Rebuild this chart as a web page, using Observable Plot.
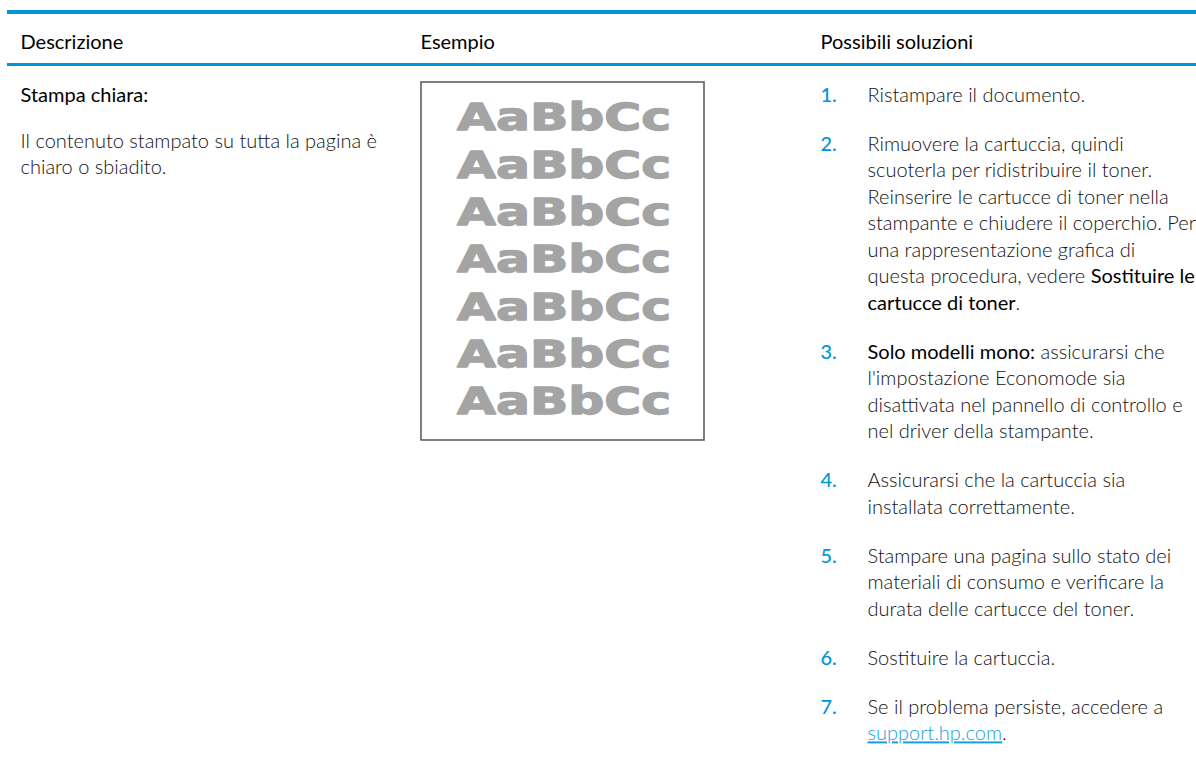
<!DOCTYPE html>
<html><head><meta charset="utf-8">
<script src="https://cdn.jsdelivr.net/npm/d3@7"></script>
<script src="https://cdn.jsdelivr.net/npm/@observablehq/plot@0.6"></script>
<style>body{margin:0;background:#fff;} svg{display:block}</style>
</head><body><div id="chart"></div>
<script>
// ---- content ----
const headers = ["Descrizione", "Esempio", "Possibili soluzioni"];
const problemTitle = ["Stampa chiara:"];
const problemLines = ["Il contenuto stampato su tutta la pagina è", "chiaro o sbiadito."];
const sampleText = "AaBbCc";
const sampleRowCount = 7;
const solutionNumbers = ["1.", "2.", "3.", "4.", "5.", "6.", "7."];
const solutionLines = [
  ["Ristampare il documento."],
  ["Rimuovere la cartuccia, quindi",
   "scuoterla per ridistribuire il toner.",
   "Reinserire le cartucce di toner nella",
   "stampante e chiudere il coperchio. Per",
   "una rappresentazione grafica di",
   "questa procedura, vedere *Sostituire le*",
   "*cartucce di toner*."],
  ["*Solo modelli mono:* assicurarsi che",
   "l'impostazione Economode sia",
   "disattivata nel pannello di controllo e",
   "nel driver della stampante."],
  ["Assicurarsi che la cartuccia sia",
   "installata correttamente."],
  ["Stampare una pagina sullo stato dei",
   "materiali di consumo e verificare la",
   "durata delle cartucce del toner."],
  ["Sostituire la cartuccia."],
  ["Se il problema persiste, accedere a",
   "~support.hp.com~."]
];

// ---- layout ----
const W = 1196, H = 764;
const BLUE = "#0096d6";
const colX = [20, 420, 820];
const textX = 867;
const headerY = 42;
const rowTop = 95;
const lineH = 26.5;
const itemStep = 49;
const FS = 20;

const headerRows = headers.map((t, i) => ({text: t, x: colX[i]}));
const leftRows = [
  ...problemTitle.map(t => ({text: t, y: rowTop, strong: true})),
  ...problemLines.map((t, j) => ({text: t, y: 141 + j * lineH, strong: false}))
];
const numberRows = [];
const solutionRows = [];
{
  let y = rowTop;
  solutionLines.forEach((lines, i) => {
    numberRows.push({text: solutionNumbers[i], y});
    lines.forEach((t, j) => solutionRows.push({text: t, y: y + j * lineH}));
    y += (lines.length - 1) * lineH + itemStep;
  });
}
const sampleRows = d3.range(sampleRowCount).map(i => ({text: sampleText, y: 118 + i * 47.3}));
const box = {x1: 421, x2: 704, y1: 82, y2: 440};
const rules = [{y1: 10, y2: 14}, {y1: 63, y2: 66}];

const chart = Plot.plot({
  width: W, height: H, margin: 0,
  x: {domain: [0, W], range: [0, W], axis: null},
  y: {domain: [0, H], range: [0, H], axis: null},
  style: {fontFamily: "Lato, 'Open Sans', sans-serif", background: "#fff"},
  marks: [
    Plot.rect(rules, {x1: () => 7, x2: () => W, y1: "y1", y2: "y2", fill: BLUE}),
    Plot.text(headerRows, {x: "x", y: () => headerY, text: "text", textAnchor: "start", lineAnchor: "middle",
      fontSize: FS, fontWeight: 400, fill: "#000"}),
    Plot.text(leftRows.filter(d => d.strong), {x: () => colX[0], y: "y", text: "text", textAnchor: "start",
      lineAnchor: "middle", fontSize: FS, fontWeight: 400, fill: "#000"}),
    Plot.text(leftRows.filter(d => !d.strong), {x: () => colX[0], y: "y", text: "text", textAnchor: "start",
      lineAnchor: "middle", fontSize: FS, fontWeight: 300, fill: "#111"}),
    Plot.rect([box], {x1: "x1", x2: "x2", y1: "y1", y2: "y2", fill: "none", stroke: "#555", strokeWidth: 1.5}),
    Plot.text(sampleRows, {x: () => (box.x1 + box.x2) / 2 + 1, y: "y", text: "text", textAnchor: "middle",
      lineAnchor: "middle", fontSize: 37, fontWeight: 700, fill: "#a4a4a4", stroke: "#a4a4a4", strokeWidth: 1.3,
      fontFamily: "'DejaVu Sans', sans-serif"}),
    Plot.text(numberRows, {x: () => colX[2], y: "y", text: "text", textAnchor: "start", lineAnchor: "middle",
      fontSize: FS, fontWeight: 500, fill: BLUE}),
    Plot.text(solutionRows, {x: () => textX, y: "y", text: "text", textAnchor: "start", lineAnchor: "middle",
      fontSize: FS, fontWeight: 300, fill: "#111"})
  ]
});

// rich-text post-processing (bold segments and link)
d3.select(chart).selectAll("text").each(function () {
  const el = this;
  const s = el.textContent;
  if (s === sampleText) {
    el.setAttribute("textLength", 214);
    el.setAttribute("lengthAdjust", "spacingAndGlyphs");
    return;
  }
  if (!/[*~]/.test(s)) return;
  const parts = s.split(/(\*[^*]+\*|~[^~]+~)/).filter(p => p.length);
  el.textContent = "";
  for (const p of parts) {
    const ts = document.createElementNS("http://www.w3.org/2000/svg", "tspan");
    if (p[0] === "*") {
      ts.textContent = p.slice(1, -1);
      ts.setAttribute("font-weight", 400);
      ts.setAttribute("fill", "#000");
    } else if (p[0] === "~") {
      ts.textContent = p.slice(1, -1);
      ts.setAttribute("fill", "#1a9fdc");
      ts.setAttribute("text-decoration", "underline");
    } else {
      ts.textContent = p;
    }
    el.appendChild(ts);
  }
});

document.getElementById("chart").appendChild(chart);
</script>
</body></html>
